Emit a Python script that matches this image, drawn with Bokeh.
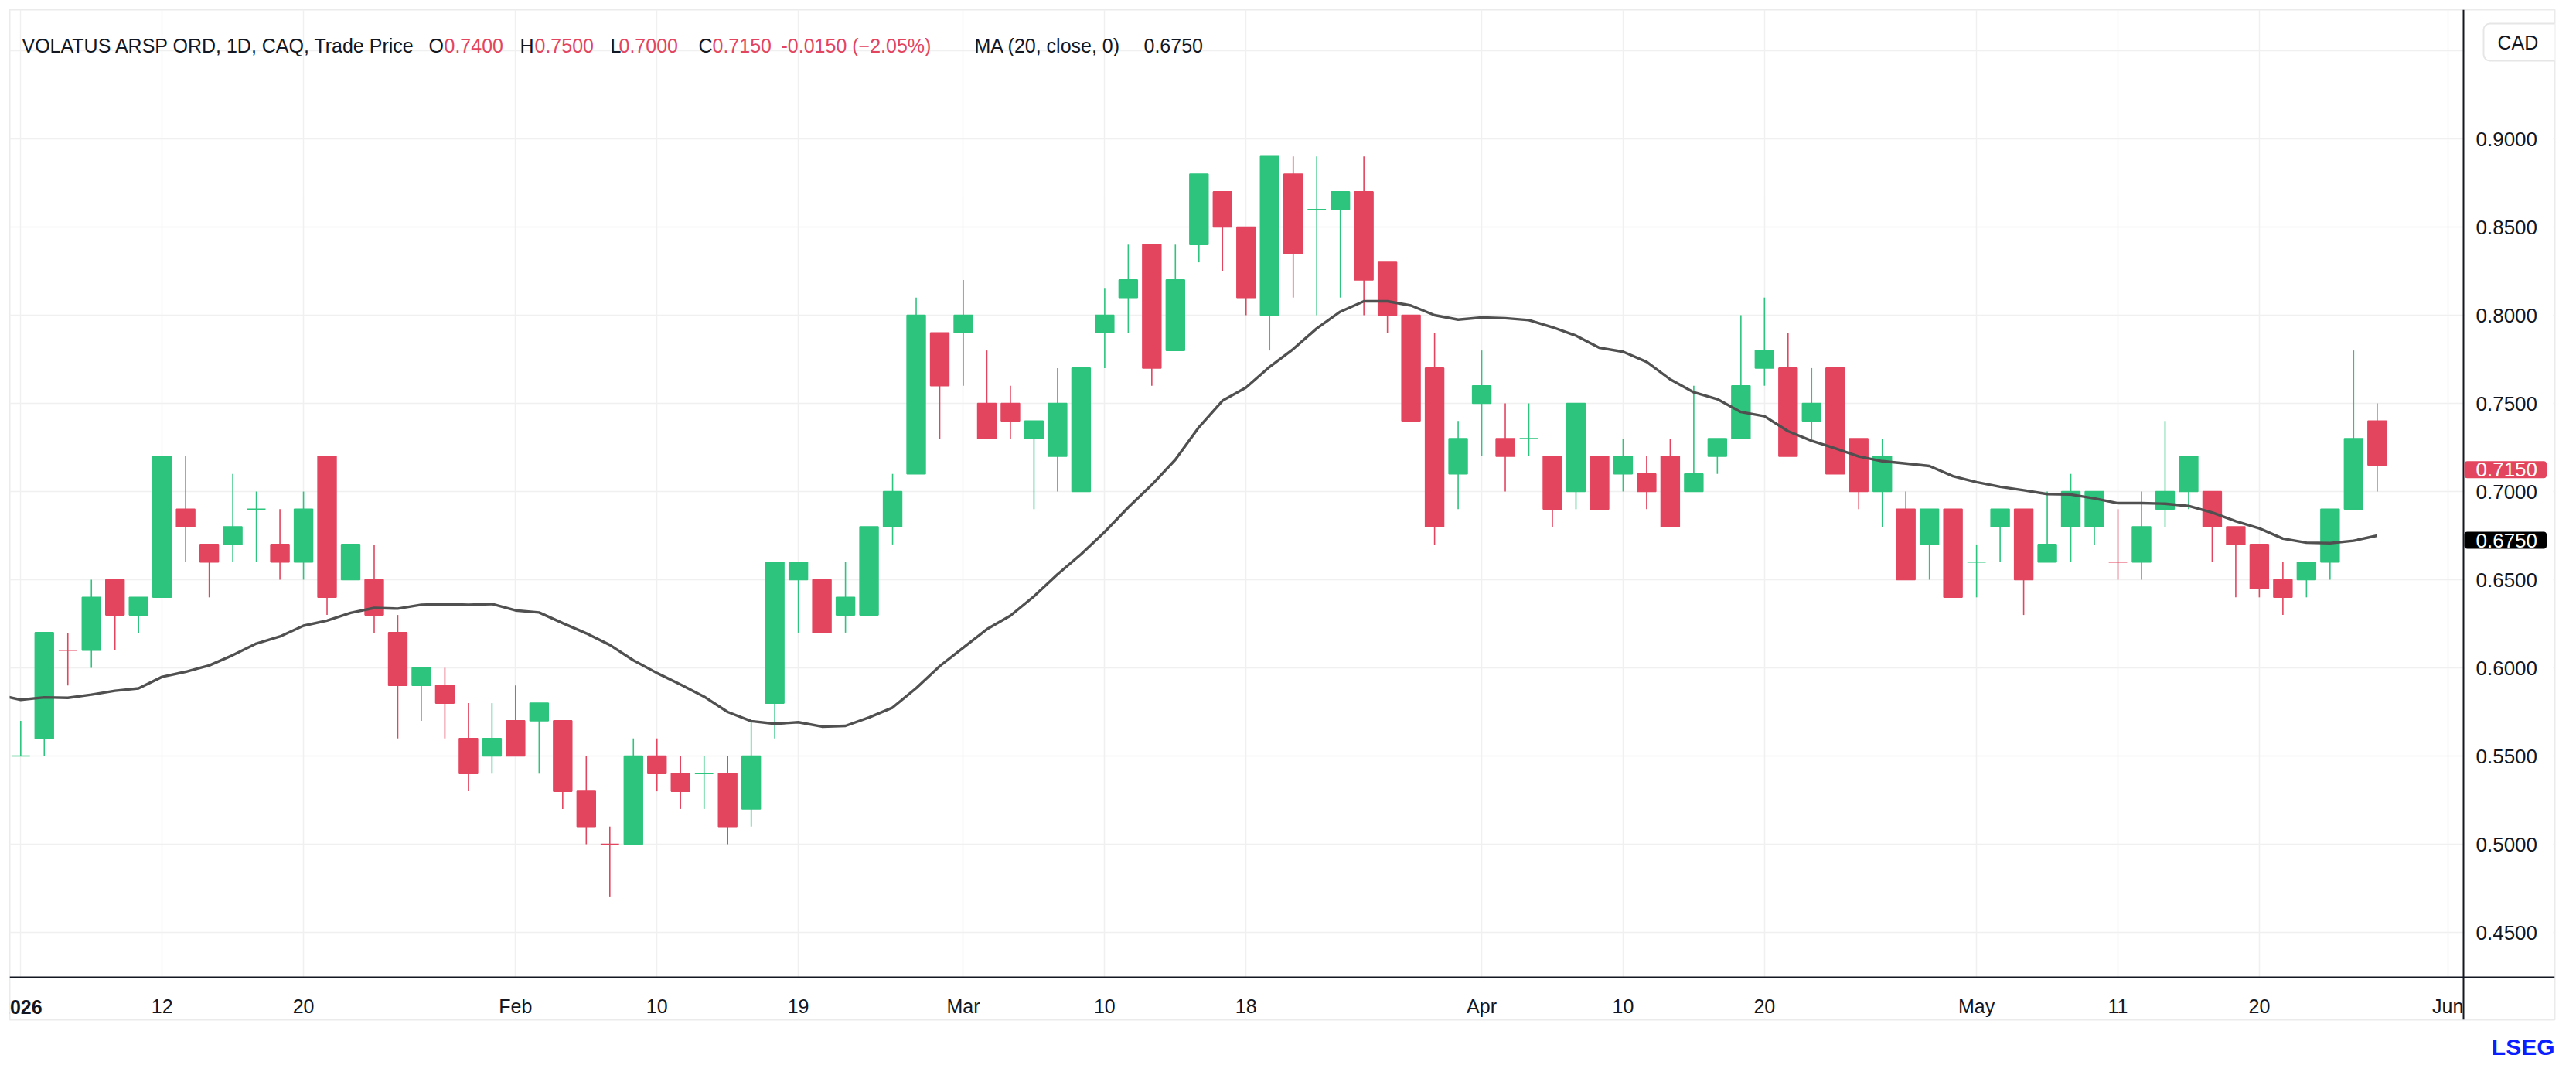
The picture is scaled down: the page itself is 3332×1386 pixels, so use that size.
import numpy as np
import pandas as pd
from bokeh.plotting import figure
from bokeh.models import FixedTicker, Label, BoxAnnotation, PrintfTickFormatter, Range1d, Title
from bokeh.embed import file_html
from bokeh.resources import INLINE

# ---------------- data ----------------
start_date = "2026-01-02"
holidays = ["2026-02-16", "2026-04-03", "2026-05-18"]

opens = [0.55, 0.56, 0.61, 0.61, 0.65, 0.63, 0.64, 0.69, 0.67, 0.67,
         0.69, 0.67, 0.66, 0.72, 0.65, 0.65, 0.62, 0.59, 0.59, 0.56,
         0.55, 0.57, 0.57, 0.57, 0.53, 0.50, 0.50, 0.55, 0.54, 0.54,
         0.54, 0.52, 0.58, 0.65, 0.65, 0.63, 0.63, 0.68, 0.71, 0.79,
         0.79, 0.75, 0.75, 0.73, 0.72, 0.70, 0.79, 0.81, 0.84, 0.78,
         0.84, 0.87, 0.85, 0.80, 0.88, 0.86, 0.86, 0.87, 0.83, 0.80,
         0.77, 0.71, 0.75, 0.73, 0.73, 0.72, 0.70, 0.72, 0.71, 0.71,
         0.72, 0.70, 0.72, 0.73, 0.77, 0.77, 0.74, 0.77, 0.73, 0.70,
         0.69, 0.67, 0.69, 0.66, 0.68, 0.69, 0.66, 0.68, 0.68, 0.66,
         0.66, 0.69, 0.70, 0.70, 0.68, 0.67, 0.65, 0.65, 0.66, 0.69,
         0.74]
highs = [0.57, 0.62, 0.62, 0.65, 0.65, 0.64, 0.72, 0.72, 0.67, 0.71,
         0.70, 0.69, 0.70, 0.72, 0.67, 0.67, 0.63, 0.60, 0.60, 0.58,
         0.58, 0.59, 0.58, 0.57, 0.55, 0.51, 0.56, 0.56, 0.55, 0.55,
         0.55, 0.57, 0.66, 0.66, 0.65, 0.66, 0.68, 0.71, 0.81, 0.79,
         0.82, 0.78, 0.76, 0.74, 0.77, 0.77, 0.815, 0.84, 0.84, 0.84,
         0.88, 0.87, 0.85, 0.89, 0.89, 0.89, 0.87, 0.89, 0.83, 0.80,
         0.79, 0.74, 0.78, 0.75, 0.75, 0.72, 0.75, 0.72, 0.73, 0.72,
         0.73, 0.76, 0.73, 0.80, 0.81, 0.79, 0.77, 0.77, 0.73, 0.73,
         0.70, 0.69, 0.69, 0.67, 0.69, 0.69, 0.70, 0.71, 0.70, 0.69,
         0.70, 0.74, 0.72, 0.70, 0.68, 0.67, 0.66, 0.66, 0.69, 0.78,
         0.75]
lows = [0.55, 0.55, 0.59, 0.60, 0.61, 0.62, 0.64, 0.66, 0.64, 0.66,
        0.66, 0.65, 0.65, 0.63, 0.65, 0.62, 0.56, 0.57, 0.56, 0.53,
        0.54, 0.55, 0.54, 0.52, 0.50, 0.47, 0.50, 0.53, 0.52, 0.52,
        0.50, 0.51, 0.56, 0.62, 0.62, 0.62, 0.63, 0.67, 0.71, 0.73,
        0.76, 0.73, 0.73, 0.69, 0.70, 0.70, 0.77, 0.79, 0.76, 0.78,
        0.83, 0.825, 0.80, 0.78, 0.81, 0.80, 0.81, 0.80, 0.79, 0.74,
        0.67, 0.69, 0.72, 0.70, 0.72, 0.68, 0.69, 0.69, 0.70, 0.69,
        0.68, 0.70, 0.71, 0.73, 0.76, 0.72, 0.73, 0.71, 0.69, 0.68,
        0.65, 0.65, 0.64, 0.64, 0.66, 0.63, 0.66, 0.66, 0.67, 0.65,
        0.65, 0.68, 0.69, 0.66, 0.64, 0.64, 0.63, 0.64, 0.65, 0.69,
        0.70]
closes = [0.55, 0.62, 0.61, 0.64, 0.63, 0.64, 0.72, 0.68, 0.66, 0.68,
          0.69, 0.66, 0.69, 0.64, 0.67, 0.63, 0.59, 0.60, 0.58, 0.54,
          0.56, 0.55, 0.58, 0.53, 0.51, 0.50, 0.55, 0.54, 0.53, 0.54,
          0.51, 0.55, 0.66, 0.66, 0.62, 0.64, 0.68, 0.70, 0.80, 0.76,
          0.80, 0.73, 0.74, 0.74, 0.75, 0.77, 0.80, 0.82, 0.77, 0.82,
          0.88, 0.85, 0.81, 0.89, 0.835, 0.86, 0.87, 0.82, 0.80, 0.74,
          0.68, 0.73, 0.76, 0.72, 0.73, 0.69, 0.75, 0.69, 0.72, 0.70,
          0.68, 0.71, 0.73, 0.76, 0.78, 0.72, 0.75, 0.71, 0.70, 0.72,
          0.65, 0.69, 0.64, 0.66, 0.69, 0.65, 0.67, 0.70, 0.70, 0.66,
          0.68, 0.70, 0.72, 0.68, 0.67, 0.645, 0.64, 0.66, 0.69, 0.73,
          0.715]
ma20 = [0.5819, 0.5833, 0.5830, 0.5848, 0.5870, 0.5884, 0.5949, 0.5978, 0.6014, 0.6072,
        0.6138, 0.6178, 0.6239, 0.6268, 0.6312, 0.6340, 0.6336, 0.6358, 0.6362, 0.6358,
        0.6362, 0.6326, 0.6314, 0.6254, 0.6196, 0.6130, 0.6043, 0.5971, 0.5906, 0.5837,
        0.5750, 0.5698, 0.5683, 0.5692, 0.5667, 0.5671, 0.5719, 0.5775, 0.5885, 0.6010,
        0.6115, 0.6219, 0.6296, 0.6406, 0.6531, 0.6645, 0.6771, 0.6910, 0.7038, 0.7181,
        0.7365, 0.7515, 0.7590, 0.7707, 0.7808, 0.7925, 0.8020, 0.8079, 0.8079, 0.8055,
        0.8000, 0.7975, 0.7987, 0.7983, 0.7972, 0.7932, 0.7884, 0.7815, 0.7793, 0.7735,
        0.7636, 0.7563, 0.7524, 0.7451, 0.7427, 0.7342, 0.7288, 0.7245, 0.7199, 0.7172,
        0.7159, 0.7145, 0.7087, 0.7053, 0.7027, 0.7007, 0.6986, 0.6983, 0.6961, 0.6934,
        0.6934, 0.6931, 0.6918, 0.6881, 0.6832, 0.6791, 0.6733, 0.6710, 0.6707, 0.6721,
        0.6750]
ma20_prior = 0.5848  # MA value of the session before the first candle

tick_dates = ["2026-01-02", "2026-01-12", "2026-01-20", "2026-02-02", "2026-02-10",
              "2026-02-19", "2026-03-02", "2026-03-10", "2026-03-18", "2026-04-01",
              "2026-04-10", "2026-04-20", "2026-05-01", "2026-05-11", "2026-05-20",
              "2026-06-01"]
tick_labels = ["2026", "12", "20", "Feb", "10", "19", "Mar", "10", "18", "Apr",
               "10", "20", "May", "11", "20", "Jun"]
y_ticks = [0.45, 0.5, 0.55, 0.6, 0.65, 0.7, 0.75, 0.8, 0.85, 0.9, 0.95]

# ---------------- layout / styles ----------------
GREEN = "#2DC47D"
RED = "#E3455F"
DARK = "#131722"
GRID = "#F0F0F0"
BORDER = "#EBEBEB"
FONT = "Liberation Sans"

FW, FH = 3292, 1306          # frame (whole bordered chart area incl. scales)
AXW, AXH = 3174, 55          # price-scale offset from frame left, time-scale offset from bottom
PX_BAR = 30.48               # pixels per session
PX_UNIT = 2280.0             # pixels per 1.0 of price
X0 = -0.469                  # session index at the frame's left edge
Y_TOP = 0.97325              # price at the frame's top edge

x_start, x_end = X0, X0 + FW / PX_BAR
y_end, y_start = Y_TOP, Y_TOP - FH / PX_UNIT
x_axis_at_x = X0 + AXW / PX_BAR
x_axis_at_y = y_start + AXH / PX_UNIT

# trading calendar -> integer positions
cal = pd.bdate_range(start_date, "2026-06-30")
cal = cal[~cal.isin(pd.to_datetime(holidays))]
pos_of = {d.strftime("%Y-%m-%d"): i for i, d in enumerate(cal)}
n = len(closes)
x = np.arange(n)

cols = []
for i in range(n):
    if closes[i] > opens[i]:
        cols.append(GREEN)
    elif closes[i] < opens[i]:
        cols.append(RED)
    else:
        cols.append(GREEN if i == 0 or closes[i] >= closes[i - 1] else RED)

body_top = np.maximum(opens, closes)
body_bot = np.minimum(opens, closes)

p = figure(frame_width=FW, frame_height=FH,
           x_range=Range1d(x_start, x_end), y_range=Range1d(y_start, y_end),
           y_axis_location="right", output_backend="svg", toolbar_location=None,
           min_border_left=12, min_border_top=12, min_border_right=4, min_border_bottom=0,
           background_fill_color="white", border_fill_color="white",
           outline_line_color=BORDER, outline_line_width=2)

# grids
xt = [pos_of[d] for d in tick_dates]
p.xaxis.ticker = FixedTicker(ticks=xt)
p.xgrid.ticker = FixedTicker(ticks=xt)
p.yaxis.ticker = FixedTicker(ticks=y_ticks)
p.ygrid.ticker = FixedTicker(ticks=y_ticks)
for g in (p.xgrid, p.ygrid):
    g.grid_line_color = GRID
    g.grid_line_width = 1.5

# white scale areas (hide grid lines there)
for l, r, b, t in ((AXW + 1, FW - 2, 2, FH - 2), (2, FW - 2, 2, AXH - 1)):
    p.add_layout(BoxAnnotation(left=l, right=r, bottom=b, top=t, left_units="screen",
                               right_units="screen", bottom_units="screen", top_units="screen",
                               fill_color="white", fill_alpha=1, line_alpha=0, level="underlay"))

# axes placed inside the frame
p.xaxis.fixed_location = x_axis_at_y
p.yaxis.fixed_location = x_axis_at_x
overrides = {xt[k]: tick_labels[k] for k in range(len(xt))}
overrides[xt[0]] = ""
p.xaxis.major_label_overrides = overrides
p.yaxis.formatter = PrintfTickFormatter(format="%.4f")
p.yaxis.major_label_overrides = {0.95: ""}
for ax in (p.xaxis[0], p.yaxis[0]):
    ax.axis_line_color = DARK
    ax.axis_line_width = 2
    ax.major_tick_line_color = None
    ax.minor_tick_line_color = None
    ax.major_tick_out = 0
    ax.major_tick_in = 0
    ax.major_label_text_font = FONT
    ax.major_label_text_color = DARK
p.xaxis.major_label_text_font_size = "25px"
p.xaxis.major_label_standoff = 23
p.yaxis.major_label_text_font_size = "26px"
p.yaxis.major_label_standoff = 16

# candles
p.segment(x0=x, y0=highs, x1=x, y1=lows, line_color=cols, line_width=1.6)
p.vbar(x=x, width=0.78, top=body_top, bottom=body_bot, fill_color=cols,
       line_color=cols, line_width=1.6)

# moving average
ma_x = np.concatenate([[-1], x])
ma_y = [ma20_prior] + ma20
p.line(ma_x, ma_y, line_color="#505050", line_width=3.4)

# bold year label on the time axis
p.add_layout(Label(x=xt[0], x_units="data", y=AXH - 38, y_units="screen", text=tick_labels[0],
                   text_align="center", text_baseline="alphabetic", text_font=FONT,
                   text_font_size="25px", text_font_style="bold", text_color=DARK))

# header (legend line)
chg = closes[-1] - closes[-2]
pct = chg / closes[-2] * 100
sign = "-" if chg < 0 else "+"
psign = "−" if pct < 0 else "+"
header = [
    (16, "VOLATUS ARSP ORD, 1D, CAQ, Trade Price", DARK),
    (542, "O", DARK), (562, f"{opens[-1]:.4f}", RED),
    (660, "H", DARK), (679, f"{highs[-1]:.4f}", RED),
    (777, "L", DARK), (788, f"{lows[-1]:.4f}", RED),
    (891, "C", DARK), (909, f"{closes[-1]:.4f}", RED),
    (998, f"{sign}{abs(chg):.4f} ({psign}{abs(pct):.2f}%)", RED),
    (1248, "MA (20, close, 0)", DARK), (1467, f"{ma20[-1]:.4f}", DARK),
]
for hx, txt, c in header:
    p.add_layout(Label(x=hx, y=FH - 46, x_units="screen", y_units="screen", text=txt,
                       text_align="left", text_baseline="alphabetic", text_font=FONT,
                       text_font_size="25px", text_color=c))

# price tags on the price scale
for val, bg in ((closes[-1], RED), (ma20[-1], "#000000")):
    p.add_layout(Label(x=AXW + 1, x_units="screen", y=val, y_units="data", y_offset=-6,
                       text=f"{val:.4f}",
                       text_align="left", text_baseline="middle", text_font=FONT,
                       text_font_size="26px", text_color="white",
                       background_fill_color=bg, border_radius=4,
                       padding=dict(left=15, right=12, top=2, bottom=2)))

# currency box
p.add_layout(Label(x=AXW + 26, y=FH - 42, x_units="screen", y_units="screen", text="CAD",
                   text_align="left", text_baseline="middle", text_font=FONT,
                   text_font_size="25px", text_color=DARK, background_fill_color="white",
                   border_line_color="#E6E6E6", border_line_width=2, border_radius=8,
                   padding=dict(left=18, right=31, top=10, bottom=10)))

# brand mark below the chart
p.add_layout(Title(text="LSEG", align="right", text_font=FONT, text_font_size="30px",
                   text_font_style="bold", text_color="#0A1EFF", standoff=33), "below")

open("out.html", "w").write(file_html(p, INLINE))
